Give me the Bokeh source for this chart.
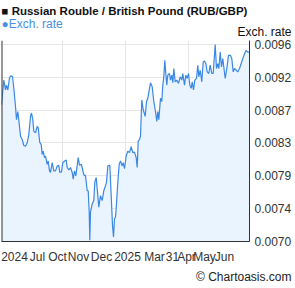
from bokeh.plotting import figure
from bokeh.models import Range1d, FixedTicker, Span, NumeralTickFormatter, Title
from bokeh.embed import file_html
from bokeh.resources import INLINE

# time index (approx. position along the one-year span) and RUB/GBP rate
t = [1, 3.3, 5, 6, 7.3, 9, 10, 11, 12, 13.3, 15, 16, 17.3, 18.3, 20, 21.7, 23.3, 25, 26.7, 28.3,
     30, 31, 32.3, 33.3, 35, 36.7, 37.7, 39.3, 40.7, 41.7, 42.7, 44, 45, 46.7, 47.7, 49, 50, 51.7,
     53.3, 55, 56.7, 58.3, 59.3, 61, 62.3, 64, 65.7, 66.7, 68.3, 70, 71.7, 72.7, 74, 75.3, 76.7,
     77.7, 79, 80.7, 81.7, 83.3, 85, 86.7, 87.7, 88.7, 89.3, 90, 91.7, 93.3, 94.3, 95.7, 97.3,
     98.3, 100, 101.7, 103.3, 105, 106, 107.3, 109.3, 110.7, 112, 113, 114, 115, 116, 117.3,
     118.7, 120, 121.7, 122.7, 124, 125.7, 127.3, 129, 130.7, 132.3, 134, 135.7, 136.7, 137.7,
     139, 140, 141.3, 142.7, 144.7, 146, 147.3, 149, 150, 151.7, 153.3, 155, 156.3, 157.3, 158.3,
     160, 161.3, 162.3, 163.3, 164.3, 165.3, 166.3, 167.3, 169, 170, 171.3, 172.3, 173.3, 174.7,
     176.3, 178, 179.7, 181.3, 182.3, 184, 185.3, 186.7, 188, 189.3, 190.7, 191.7, 193, 194.3,
     196, 197.3, 198.3, 199.7, 201.3, 202.7, 204, 205.3, 206.7, 208.3, 209.7, 211.3, 212.7,
     214.7, 216, 217.3, 218.3, 219.7, 221, 222.3, 223.3, 224.7, 226.3, 228, 230, 231.3, 232.7,
     234, 235.7, 237.3, 239, 240.7, 242.3, 244, 245.7, 247.3, 249]
rate = [0.008803, 0.009130, 0.008999, 0.009064, 0.008999, 0.009156, 0.009182, 0.009186, 0.009173,
        0.009025, 0.008781, 0.008607, 0.008715, 0.008607, 0.008389, 0.008346, 0.008267, 0.008258,
        0.008303, 0.008411, 0.008650, 0.008695, 0.008607, 0.008454, 0.008433, 0.008519, 0.008499,
        0.008303, 0.008280, 0.008150, 0.008193, 0.008107, 0.008128, 0.008019, 0.008062, 0.007932,
        0.007911, 0.008041, 0.007932, 0.007932, 0.007997, 0.008006, 0.007911, 0.007919, 0.008041,
        0.008062, 0.008075, 0.007976, 0.007945, 0.007976, 0.007911, 0.007823, 0.007932, 0.007866,
        0.007997, 0.008107, 0.008006, 0.008019, 0.007976, 0.007879, 0.007866, 0.007670, 0.007670,
        0.007388, 0.007017, 0.007388, 0.007496, 0.007540, 0.007780, 0.007845, 0.007605, 0.007453,
        0.007605, 0.007540, 0.007670, 0.007736, 0.007780, 0.007997, 0.008006, 0.007605, 0.007213,
        0.007061, 0.007300, 0.007323, 0.007496, 0.007780, 0.008019, 0.008062, 0.007997, 0.008041,
        0.007960, 0.008128, 0.008193, 0.008172, 0.008250, 0.008172, 0.008180, 0.008107, 0.007976,
        0.008323, 0.008346, 0.008389, 0.008868, 0.008738, 0.008650, 0.008846, 0.008890, 0.009021,
        0.009094, 0.009042, 0.008846, 0.008715, 0.008585, 0.008715, 0.008607, 0.008890, 0.008846,
        0.009064, 0.009173, 0.009391, 0.009217, 0.009064, 0.009195, 0.009217, 0.009130, 0.009195,
        0.009094, 0.009282, 0.009107, 0.009130, 0.009086, 0.009173, 0.009130, 0.009217, 0.009064,
        0.009195, 0.009152, 0.009217, 0.009064, 0.009021, 0.009107, 0.008999, 0.009130, 0.009152,
        0.009326, 0.009173, 0.009260, 0.009107, 0.009369, 0.009382, 0.009348, 0.009238, 0.009217,
        0.009326, 0.009217, 0.009217, 0.009600, 0.009282, 0.009348, 0.009282, 0.009499, 0.009303,
        0.009413, 0.009303, 0.009152, 0.009282, 0.009456, 0.009456, 0.009413, 0.009238, 0.009282,
        0.009260, 0.009238, 0.009282, 0.009348, 0.009413, 0.009478, 0.009522, 0.009499, 0.009499]

x_tick_pos = [14, 37, 57, 78, 101, 127, 154, 172, 186, 204, 224]
x_tick_labels = ["2024", "Jul", "Oct", "Nov", "Dec", "2025", "Mar", "31", "Apr", "May", "Jun"]
x_grid_pos = [62, 125, 188]
y_ticks = [0.0070, 0.0074333, 0.0078667, 0.0083, 0.0087333, 0.0091667, 0.0096]
y_min, y_max = 0.0070, 0.009652
x_min, x_max = 1, 249

title_text = "\u25a0 Russian Rouble / British Pound (RUB/GBP)"
legend_text = "\u25cfExch. rate"
axis_title = "Exch. rate"
credit = "\u00a9 Chartoasis.com"

FONT = "Liberation Sans"
LINE = "#3b88e3"
FILL = "#eaf4fe"
AX = "#333333"

p = figure(width=295, height=288, output_backend="svg", toolbar_location=None, title=None,
           x_range=Range1d(x_min, x_max), y_range=Range1d(y_min, y_max),
           y_axis_location="right", min_border_left=1, min_border_right=46,
           min_border_top=40, min_border_bottom=45)
p.outline_line_color = None
p.background_fill_color = "white"
p.border_fill_color = "white"

p.varea(x=t, y1=y_min, y2=rate, fill_color=FILL)
p.line(t, rate, line_color=LINE, line_width=1.2)

# axes
p.xaxis.ticker = FixedTicker(ticks=x_tick_pos)
p.xaxis.major_label_overrides = {k: v for k, v in zip(x_tick_pos, x_tick_labels)}
p.yaxis.ticker = FixedTicker(ticks=y_ticks)
p.yaxis.formatter = NumeralTickFormatter(format="0.0000")
for ax in (p.xaxis[0], p.yaxis[0]):
    ax.major_tick_out = 0
    ax.major_tick_in = 0
    ax.minor_tick_out = 0
    ax.minor_tick_in = 0
    ax.axis_line_color = AX
    ax.major_label_text_font = FONT
    ax.major_label_text_font_size = "12px"
    ax.major_label_text_color = AX
p.xaxis.major_label_standoff = 8
p.yaxis.major_label_standoff = 5

p.xgrid.ticker = FixedTicker(ticks=x_grid_pos)
p.xgrid.grid_line_color = "#e6e6e6"
p.ygrid.grid_line_color = "#e6e6e6"

p.add_layout(Span(location=x_min, dimension="height", line_color=AX, line_width=2))

# header rows (nearest to the frame first)
p.add_layout(Title(text=axis_title, align="right", offset=-42, standoff=0,
                   vertical_align="top", text_font=FONT, text_font_size="12px",
                   text_font_style="normal", text_color="#111111"), "above")
p.add_layout(Title(text=legend_text, align="left", offset=0, standoff=-15.4,
                   vertical_align="middle", text_font=FONT, text_font_size="12px",
                   text_font_style="normal", text_color="#4a90e2"), "above")
p.add_layout(Title(text=title_text, align="left", offset=0, standoff=9,
                   vertical_align="top", text_font=FONT, text_font_size="11.5px",
                   text_font_style="bold", text_color="#111111"), "above")
p.add_layout(Title(text=credit, align="right", offset=-42, standoff=6,
                   vertical_align="top", text_font=FONT, text_font_size="12px",
                   text_font_style="normal", text_color="#222222"), "below")

open("out.html", "w").write(file_html(p, INLINE))
